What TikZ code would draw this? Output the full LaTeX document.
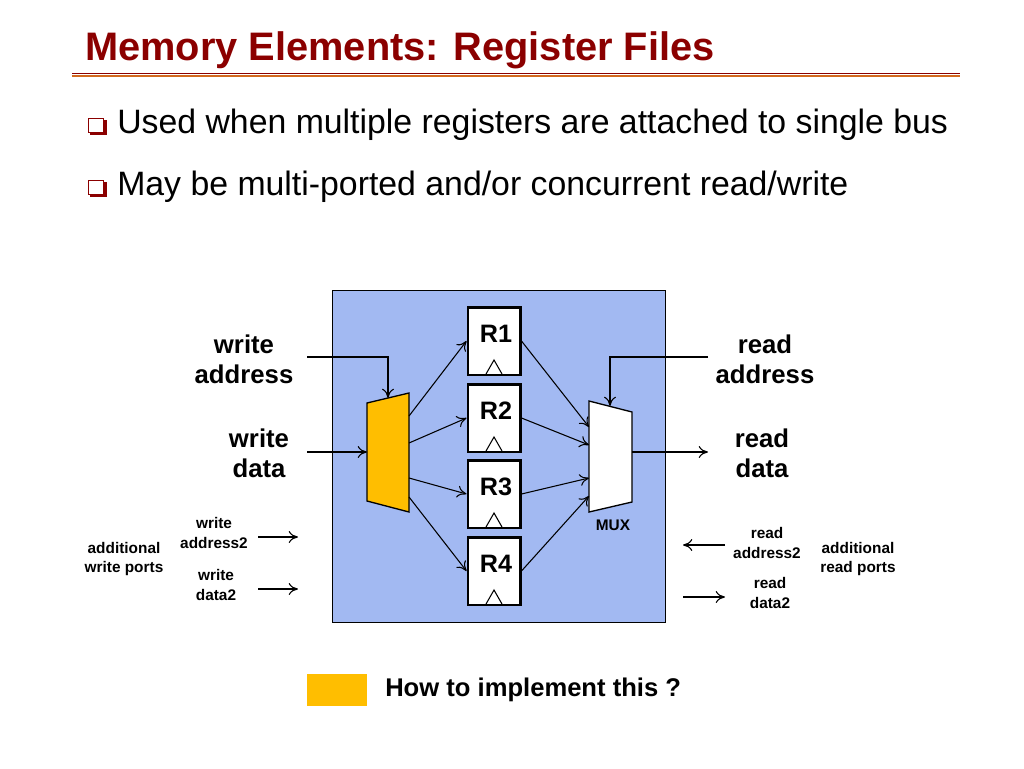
\documentclass[tikz,border=0pt]{standalone}
\usepackage{fontspec}
\setmainfont{Liberation Sans}
\usetikzlibrary{positioning,arrows.meta}
\definecolor{titlered}{HTML}{8B0000}
\definecolor{rulebrown}{HTML}{D2691E}
\definecolor{boxblue}{HTML}{A2B9F2}
\definecolor{demuxorange}{HTML}{FFBE00}
\tikzset{
  reg/.style={draw, line width=2.2pt, fill=white, minimum width=1.38cm, minimum height=1.8cm, inner sep=0pt},
  lbl/.style={font=\bfseries\fontsize{19.4}{22.5}\selectfont, align=center},
  small/.style={font=\bfseries\fontsize{11.6}{14.5}\selectfont, align=center},
  wire/.style={-{To[length=7pt,width=9pt]}, line width=0.8pt},
}
\begin{document}
\begin{tikzpicture}[x=0.0265cm, y=-0.0265cm]
\useasboundingbox (0,0) rectangle (1024,768);

% title and rule
\node[anchor=base west, text=titlered, inner sep=0pt, font=\bfseries\fontsize{30}{34}\selectfont] (title) at (85,60) {Memory Elements: Register Files};
\draw[titlered, line width=0.6pt] (72,73) -- (960,73);
\draw[rulebrown, line width=2pt] (72,76) -- (960,76);

% bullets
\foreach \y/\t in {125/{Used when multiple registers are attached to single bus}, 187/{May be multi-ported and/or concurrent read/write}} {
  \draw[fill=titlered, draw=titlered] (90,\y-5) rectangle (106,\y+9);
  \draw[fill=white, draw=titlered, line width=0.6pt] (88,\y-7) rectangle (103,\y+7);
  \node[anchor=west, font=\fontsize{25.5}{30}\selectfont, inner sep=0pt] at (117,\y) {\t};
}

% register file box
\draw[fill=boxblue] (332,290) rectangle (665,622);

% registers
\foreach \n/\y in {1/341, 2/418, 3/494, 4/571} {
  \node[reg] (r\n) at (494,\y) {};
  \node[font=\bfseries\fontsize{19}{22}\selectfont] at (496,\y-7) {R\n};
  \draw[line width=0.8pt] (486,\y+33) -- (494,\y+19) -- (502,\y+33);
}

% decoder and mux
\draw[fill=demuxorange, line width=1pt] (367,403) coordinate (dtl) -- (409,393) coordinate (dtr)
  -- (409,512) coordinate (dbr) -- (367,501) coordinate (dbl) -- cycle;
\draw[fill=white, line width=1pt] (589,401) coordinate (mtl) -- (632,412) coordinate (mtr)
  -- (632,502) coordinate (mbr) -- (589,512) coordinate (mbl) -- cycle;
\node[small] (mux) at (613,525) {MUX};

% decoder to registers
\draw[wire] (409,416) -- (r1.west);
\draw[wire] (409,443) -- (r2.west);
\draw[wire] (409,478) -- (r3.west);
\draw[wire] (409,497) -- (r4.west);

% registers to mux
\draw[wire] (r1.east) -- (589,427);
\draw[wire] (r2.east) -- (589,445);
\draw[wire] (r3.east) -- (589,478);
\draw[wire] (r4.east) -- (589,496);

% main ports
\node[lbl] (waddr) at (244,359) {write\\address};
\node[lbl] (wdata) at (259,453) {write\\data};
\node[lbl] (raddr) at (765,359) {read\\address};
\node[lbl] (rdata) at (762,453) {read\\data};
\draw[wire] (307,357) -| (388,398);
\draw[wire] (307,452) -- (367,452);
\draw[wire] (708,357) -| (610,406);
\draw[wire] (632,452) -- (708,452);

% additional ports
\node[small] (waddr2) at (214,533) {write\\address2};
\node[small] (wdata2) at (216,585) {write\\data2};
\node[small] (wports) at (124,559) {additional\\write ports};
\node[small] (raddr2) at (767,543) {read\\address2};
\node[small] (rdata2) at (770,593) {read\\data2};
\node[small] (rports) at (858,559) {additional\\read ports};
\draw[wire] (258,537) -- (298,537);
\draw[wire] (258,589) -- (298,589);
\draw[wire] (725,545) -- (683,545);
\draw[wire] (683,597) -- (725,597);

% legend
\fill[demuxorange] (307,674) rectangle (367,706);
\node[anchor=west, inner sep=0pt, font=\bfseries\fontsize{19.3}{22}\selectfont] (howto) at (385,690) {How to implement this ?};
\end{tikzpicture}
\end{document}
